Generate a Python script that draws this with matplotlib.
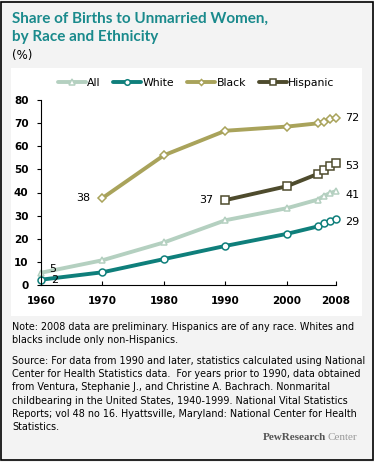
import matplotlib.pyplot as plt
from matplotlib.patches import Rectangle

# data
years_all = [1960, 1970, 1980, 1990, 2000, 2005, 2006, 2007, 2008]
all_vals = [5.3, 10.7, 18.4, 28.0, 33.2, 36.9, 38.5, 39.7, 40.6]
white_vals = [2.3, 5.5, 11.2, 16.9, 22.1, 25.3, 26.6, 27.8, 28.7]
years_black = [1970, 1980, 1990, 2000, 2005, 2006, 2007, 2008]
black_vals = [37.6, 56.1, 66.7, 68.5, 69.9, 70.7, 71.6, 72.3]
years_hisp = [1990, 2000, 2005, 2006, 2007, 2008]
hisp_vals = [36.7, 42.7, 48.0, 49.9, 51.3, 52.6]
xticks = [1960, 1970, 1980, 1990, 2000, 2008]
yticks = [0, 10, 20, 30, 40, 50, 60, 70, 80]

c_all = '#b4d0c0'
c_white = '#0f7f7b'
c_black = '#a9a35b'
c_hisp = '#4e4b2d'
c_title = '#1a8a8c'

W, H = 374, 462
fig = plt.figure(figsize=(W / 100, H / 100), dpi=100)
fig.patch.set_facecolor('#f3f3f3')

def fx(px):
    return px / W

def fy(py):
    return 1 - py / H

# outer border and white panel (behind the axes)
fig.patches.append(Rectangle((fx(1), fy(460)), fx(372), 458 / H, transform=fig.transFigure,
                             fill=False, edgecolor='black', linewidth=1.2, zorder=-2))
fig.patches.append(Rectangle((fx(11), fy(316)), fx(351), 248 / H, transform=fig.transFigure,
                             facecolor='white', edgecolor='none', zorder=-1))

fig.text(fx(12), fy(19), 'Share of Births to Unmarried Women,', color=c_title,
         fontsize=11, fontweight='bold', family='Lato', va='center')
fig.text(fx(12), fy(37), 'by Race and Ethnicity', color=c_title,
         fontsize=11, fontweight='bold', family='Lato', va='center')
fig.text(fx(12), fy(56), '(%)', fontsize=8.5, va='center')

ax = fig.add_axes([fx(41), fy(285), fx(336 - 41), (285 - 100) / H])
ax.set_facecolor('none')

mk = dict(markerfacecolor='white', clip_on=False, solid_capstyle='round', markeredgewidth=1.1)
l1, = ax.plot(years_all, all_vals, color=c_all, lw=2.8, marker='^', markersize=5,
              markeredgecolor=c_all, label='All', **mk)
l2, = ax.plot(years_all, white_vals, color=c_white, lw=2.8, marker='o', markersize=5,
              markeredgecolor=c_white, label='White', **mk)
l3, = ax.plot(years_black, black_vals, color=c_black, lw=2.8, marker='D', markersize=3.8,
              markeredgecolor=c_black, label='Black', **mk)
l4, = ax.plot(years_hisp, hisp_vals, color=c_hisp, lw=2.8, marker='s', markersize=6,
              markeredgecolor=c_hisp, label='Hispanic', **mk)

ax.set_xlim(1960, 2008)
ax.set_ylim(0, 80)
ax.set_xticks(xticks)
ax.set_yticks(yticks)
ax.tick_params(axis='x', direction='in', length=3, pad=8, labelsize=7.5)
ax.tick_params(axis='y', direction='out', length=3, pad=6, labelsize=7.5)
for t in ax.get_xticklabels() + ax.get_yticklabels():
    t.set_fontweight('bold')
for s in ['top', 'right']:
    ax.spines[s].set_visible(False)

lab = dict(fontsize=8, va='center')
ax.text(1961.3, all_vals[0] + 1.5, '5', ha='left', **lab)
ax.text(1961.6, white_vals[0], '2', ha='left', **lab)
ax.text(1968, black_vals[0], '38', ha='right', **lab)
ax.text(1988, hisp_vals[0], '37', ha='right', **lab)
ax.text(2009.5, black_vals[-1], '72', ha='left', clip_on=False, **lab)
ax.text(2009.5, hisp_vals[-1] - 1, '53', ha='left', clip_on=False, **lab)
ax.text(2009.5, all_vals[-1] - 1.5, '41', ha='left', clip_on=False, **lab)
ax.text(2009.5, white_vals[-1] - 1.5, '29', ha='left', clip_on=False, **lab)

fig.legend(handles=[l1, l2, l3, l4], loc='center', bbox_to_anchor=(fx(196), fy(83)),
           ncol=4, frameon=False, fontsize=7.8, handlelength=2.6, handletextpad=0.1,
           columnspacing=1.2, markerscale=0.8)

note = ('Note: 2008 data are preliminary. Hispanics are of any race. Whites and\n'
        'blacks include only non-Hispanics.')
source = ('Source: For data from 1990 and later, statistics calculated using National\n'
          'Center for Health Statistics data.  For years prior to 1990, data obtained\n'
          'from Ventura, Stephanie J., and Christine A. Bachrach. Nonmarital\n'
          'childbearing in the United States, 1940-1999. National Vital Statistics\n'
          'Reports; vol 48 no 16. Hyattsville, Maryland: National Center for Health\n'
          'Statistics.')
fig.text(fx(12), fy(322), note, fontsize=6.9, va='top', linespacing=1.4)
fig.text(fx(12), fy(356), source, fontsize=6.9, va='top', linespacing=1.4)

fig.text(fx(357), fy(437), 'Center', ha='right', va='center', family='Liberation Serif',
         fontsize=8, color='#9a9a9a')
fig.text(fx(326), fy(437), 'PewResearch', ha='right', va='center', family='Liberation Serif',
         fontsize=8, fontweight='bold', color='#555555')

fig.savefig('out.png', dpi=100, facecolor=fig.get_facecolor())
